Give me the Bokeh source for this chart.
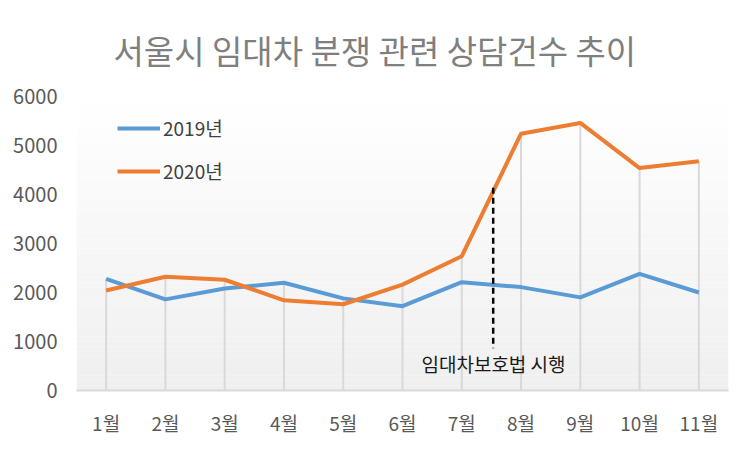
from bokeh.plotting import figure
from bokeh.models import Range1d, FixedTicker, Legend, LegendItem, Title
from bokeh.core.properties import value
from bokeh.embed import file_html
from bokeh.resources import INLINE

# ---- data ----
months = [1, 2, 3, 4, 5, 6, 7, 8, 9, 10, 11]
month_labels = ["1월", "2월", "3월", "4월", "5월", "6월", "7월", "8월", "9월", "10월", "11월"]
s2019 = [2280, 1860, 2080, 2200, 1880, 1720, 2210, 2110, 1900, 2380, 2000]
s2020 = [2040, 2320, 2260, 1840, 1760, 2160, 2740, 5240, 5460, 4540, 4680]
y_ticks = [0, 1000, 2000, 3000, 4000, 5000, 6000]
title_text = "서울시 임대차 분쟁 관련 상담건수 추이"
note_text = "임대차보호법 시행"
note_x = 7.53          # law effective date (end of July)
note_line = [4140, 860]
note_label_pos = (6.32, 560)

FONT = "Noto Sans CJK KR"
BLUE = "#5b9bd5"
ORANGE = "#ed7d31"

p = figure(width=735, height=438, output_backend="svg", toolbar_location=None,
           x_range=Range1d(0.5, 11.5), y_range=Range1d(0, 6000),
           min_border_left=76, min_border_right=7, min_border_top=96, min_border_bottom=48)
p.outline_line_color = None
p.xgrid.visible = False
p.ygrid.visible = False
p.background_fill_color = "white"
p.border_fill_color = "white"

# title
t = Title(text=title_text, align="left", text_font=FONT, text_font_size="33px",
          text_color="#7f7f7f", text_font_style="normal", standoff=46, offset=37)
p.add_layout(t, "above")

# gradient background in plot area
n = 60
top = y_ticks[-1]
for i in range(n):
    f = i / (n - 1)
    c = int(round(0xef + (0xff - 0xef) * f))
    col = "#%02x%02x%02x" % (c, c, c)
    p.quad(left=0.5, right=11.5, bottom=top * i / n, top=top * (i + 1) / n,
           fill_color=col, line_color=None)

# drop lines
p.segment(x0=months, y0=[0] * len(months), x1=months,
          y1=[max(a, b) for a, b in zip(s2019, s2020)],
          line_color="#d9d9d9", line_width=2)

r1 = p.line(months, s2019, line_color=BLUE, line_width=4)
r2 = p.line(months, s2020, line_color=ORANGE, line_width=4)

# annotation
p.segment(x0=[note_x], y0=[note_line[0]], x1=[note_x], y1=[note_line[1]],
          line_color="black", line_width=2.5, line_dash="6 4")
p.text(x=[note_label_pos[0]], y=[note_label_pos[1]], text=[note_text],
       text_font=value(FONT), text_font_size="19px", text_color="#1a1a1a",
       text_baseline="middle", text_align="left")

# axes
p.xaxis.ticker = FixedTicker(ticks=months)
p.xaxis.major_label_overrides = {m: l for m, l in zip(months, month_labels)}
p.xaxis.axis_line_color = "#d9d9d9"
p.xaxis.axis_line_width = 2
p.xaxis.major_tick_line_color = None
p.xaxis.minor_tick_line_color = None
p.xaxis.major_label_text_font = FONT
p.xaxis.major_label_text_font_size = "19px"
p.xaxis.major_label_text_color = "#595959"
p.xaxis.major_label_standoff = 12

p.yaxis.ticker = FixedTicker(ticks=y_ticks)
p.yaxis.axis_line_color = None
p.yaxis.major_tick_line_color = None
p.yaxis.minor_tick_line_color = None
p.yaxis.major_label_text_font = FONT
p.yaxis.major_label_text_font_size = "20px"
p.yaxis.major_label_text_color = "#595959"
p.yaxis.major_label_standoff = 13

legend = Legend(items=[LegendItem(label="2019년", renderers=[r1]),
                       LegendItem(label="2020년", renderers=[r2])],
                location=(41, 206), orientation="vertical",
                background_fill_alpha=0, border_line_color=None,
                glyph_width=43, glyph_height=20, label_height=20, spacing=16,
                label_standoff=3, padding=0, margin=0,
                label_text_font=FONT, label_text_font_size="19px",
                label_text_color="#404040")
p.add_layout(legend, "center")

open("out.html", "w").write(file_html(p, INLINE))
